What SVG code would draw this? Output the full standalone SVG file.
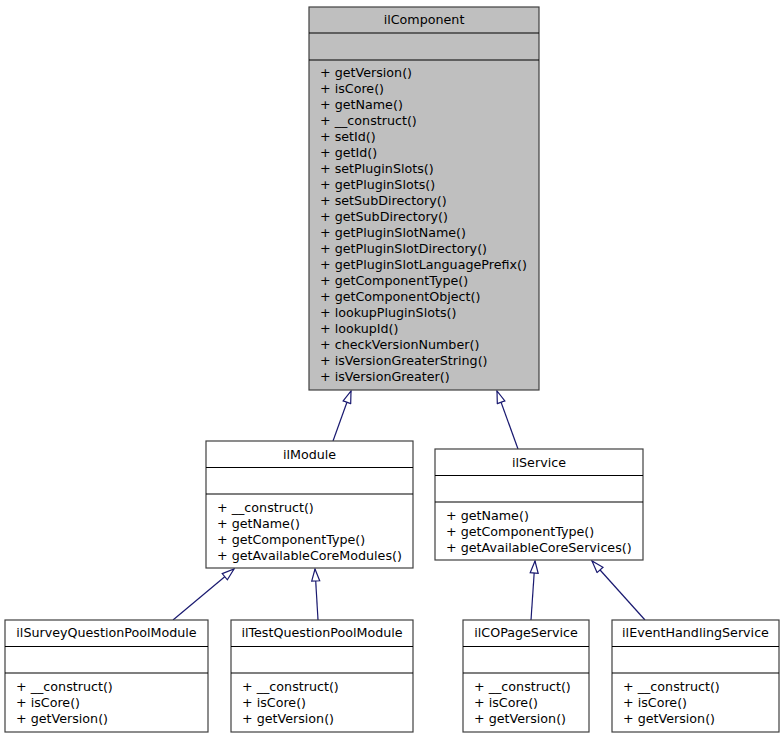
<svg xmlns="http://www.w3.org/2000/svg" width="784" height="739" viewBox="0 0 784 739">
<style>
text{font-family:"DejaVu Sans","Liberation Sans",sans-serif;font-size:12.7px;fill:#000}
.t{text-anchor:middle}
.box{stroke:#404040;stroke-width:1.2;fill:#fff}
.core{fill:#bfbfbf}
.sep{stroke:#000;stroke-width:1.2}
.edge{stroke:#191970;stroke-width:1.2;fill:none;marker-end:url(#inh)}
</style>
<defs>
<marker id="inh" markerUnits="userSpaceOnUse" viewBox="0 0 14 10" refX="13" refY="5" markerWidth="14" markerHeight="10" orient="auto">
<path d="M1,1 L13,5 L1,9 z" fill="#fff" stroke="#191970" stroke-width="1.2"/>
</marker>
</defs>
<g id="connectors">
<line class="edge" x1="333" y1="441" x2="351" y2="391"/>
<line class="edge" x1="518" y1="449" x2="497" y2="391"/>
<line class="edge" x1="173" y1="620" x2="234" y2="569"/>
<line class="edge" x1="318" y1="620" x2="315" y2="569"/>
<line class="edge" x1="531" y1="620" x2="535" y2="561"/>
<line class="edge" x1="645" y1="620" x2="592" y2="561"/>
</g>
<g id="ilComponent">
<rect class="box core" x="309" y="7" width="230" height="383"/>
<line class="sep" x1="309" y1="33" x2="539" y2="33"/>
<line class="sep" x1="309" y1="60" x2="539" y2="60"/>
<text class="t" x="424" y="24">ilComponent</text>
<text x="320" y="77">+ getVersion()</text>
<text x="320" y="93">+ isCore()</text>
<text x="320" y="109">+ getName()</text>
<text x="320" y="125">+ __construct()</text>
<text x="320" y="141">+ setId()</text>
<text x="320" y="157">+ getId()</text>
<text x="320" y="173">+ setPluginSlots()</text>
<text x="320" y="189">+ getPluginSlots()</text>
<text x="320" y="205">+ setSubDirectory()</text>
<text x="320" y="221">+ getSubDirectory()</text>
<text x="320" y="237">+ getPluginSlotName()</text>
<text x="320" y="253">+ getPluginSlotDirectory()</text>
<text x="320" y="269">+ getPluginSlotLanguagePrefix()</text>
<text x="320" y="285">+ getComponentType()</text>
<text x="320" y="301">+ getComponentObject()</text>
<text x="320" y="317">+ lookupPluginSlots()</text>
<text x="320" y="333">+ lookupId()</text>
<text x="320" y="349">+ checkVersionNumber()</text>
<text x="320" y="365">+ isVersionGreaterString()</text>
<text x="320" y="381">+ isVersionGreater()</text>
</g>
<g id="ilModule">
<rect class="box" x="206" y="441" width="207" height="127"/>
<line class="sep" x1="206" y1="467.5" x2="413" y2="467.5"/>
<line class="sep" x1="206" y1="494" x2="413" y2="494"/>
<text class="t" x="309.5" y="459">ilModule</text>
<text x="217" y="511.5">+ __construct()</text>
<text x="217" y="527.5">+ getName()</text>
<text x="217" y="543.5">+ getComponentType()</text>
<text x="217" y="559.5">+ getAvailableCoreModules()</text>
</g>
<g id="ilService">
<rect class="box" x="435" y="449" width="208" height="111"/>
<line class="sep" x1="435" y1="475.5" x2="643" y2="475.5"/>
<line class="sep" x1="435" y1="502" x2="643" y2="502"/>
<text class="t" x="539" y="467">ilService</text>
<text x="446" y="519.5">+ getName()</text>
<text x="446" y="535.5">+ getComponentType()</text>
<text x="446" y="551.5">+ getAvailableCoreServices()</text>
</g>
<g id="ilSurveyQuestionPoolModule">
<rect class="box" x="5" y="620" width="203" height="112"/>
<line class="sep" x1="5" y1="646.5" x2="208" y2="646.5"/>
<line class="sep" x1="5" y1="673" x2="208" y2="673"/>
<text class="t" x="106.5" y="636.5">ilSurveyQuestionPoolModule</text>
<text x="16" y="690.5">+ __construct()</text>
<text x="16" y="706.5">+ isCore()</text>
<text x="16" y="722.5">+ getVersion()</text>
</g>
<g id="ilTestQuestionPoolModule">
<rect class="box" x="231" y="620" width="182" height="112"/>
<line class="sep" x1="231" y1="646.5" x2="413" y2="646.5"/>
<line class="sep" x1="231" y1="673" x2="413" y2="673"/>
<text class="t" x="322" y="636.5">ilTestQuestionPoolModule</text>
<text x="242" y="690.5">+ __construct()</text>
<text x="242" y="706.5">+ isCore()</text>
<text x="242" y="722.5">+ getVersion()</text>
</g>
<g id="ilCOPageService">
<rect class="box" x="463" y="620" width="126" height="112"/>
<line class="sep" x1="463" y1="646.5" x2="589" y2="646.5"/>
<line class="sep" x1="463" y1="673" x2="589" y2="673"/>
<text class="t" x="526" y="636.5">ilCOPageService</text>
<text x="474" y="690.5">+ __construct()</text>
<text x="474" y="706.5">+ isCore()</text>
<text x="474" y="722.5">+ getVersion()</text>
</g>
<g id="ilEventHandlingService">
<rect class="box" x="612" y="620" width="167" height="112"/>
<line class="sep" x1="612" y1="646.5" x2="779" y2="646.5"/>
<line class="sep" x1="612" y1="673" x2="779" y2="673"/>
<text class="t" x="695.5" y="636.5">ilEventHandlingService</text>
<text x="623" y="690.5">+ __construct()</text>
<text x="623" y="706.5">+ isCore()</text>
<text x="623" y="722.5">+ getVersion()</text>
</g>
</svg>
